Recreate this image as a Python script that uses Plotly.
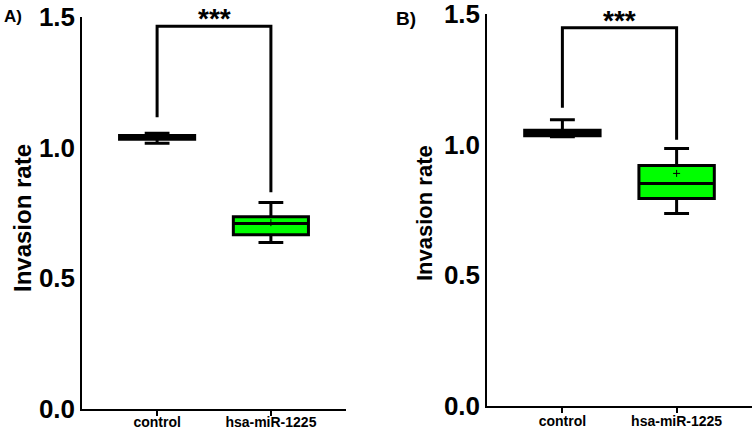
import plotly.graph_objects as go

categories = ["control", "hsa-miR-1225"]

# Panel A box statistics
a_q1 = [1.032, 0.667]
a_median = [1.040, 0.710]
a_q3 = [1.047, 0.736]
a_lower = [1.017, 0.637]
a_upper = [1.055, 0.790]
a_mean = [1.040, 0.713]

# Panel B box statistics
b_q1 = [1.034, 0.794]
b_median = [1.045, 0.851]
b_q3 = [1.055, 0.920]
b_lower = [1.030, 0.737]
b_upper = [1.095, 0.985]
b_mean = [1.045, 0.890]

# significance brackets: top level, left foot, right foot
a_bracket = [1.465, 1.116, 0.829]
b_bracket = [1.447, 1.141, 1.019]
sig_label = "***"

y_ticks = [0.0, 0.5, 1.0, 1.5]
y_title = "Invasion rate"
fills = ["white", "#00FF00"]

FONT = "Liberation Sans, Arial, Helvetica, sans-serif"

fig = go.Figure()


def add_panel(fig, xa, ya, q1, med, q3, lo, hi, mean, bracket):
    for i, cat in enumerate(categories):
        fig.add_trace(go.Box(
            x=[cat], q1=[q1[i]], median=[med[i]], q3=[q3[i]],
            lowerfence=[lo[i]], upperfence=[hi[i]],
            width=0.66, whiskerwidth=0.33,
            fillcolor=fills[i], line=dict(color="black", width=3),
            xaxis=xa, yaxis=ya, showlegend=False, hoverinfo="skip",
        ))
    fig.add_trace(go.Scatter(
        x=categories, y=mean, mode="markers",
        marker=dict(symbol="cross-thin-open", size=5, color="black",
                    line=dict(color="black", width=1)),
        xaxis=xa, yaxis=ya, showlegend=False, hoverinfo="skip",
    ))
    fig.add_trace(go.Scatter(
        x=[categories[0], categories[0], categories[1], categories[1]],
        y=[bracket[1], bracket[0], bracket[0], bracket[2]],
        mode="lines", line=dict(color="black", width=3),
        xaxis=xa, yaxis=ya, showlegend=False, hoverinfo="skip",
    ))
    fig.add_annotation(
        x=0.5, y=bracket[0], xref=xa, yref=ya, text=sig_label,
        showarrow=False, xanchor="center", yanchor="bottom", yshift=-10,
        font=dict(family=FONT, size=28, color="black", weight="bold"),
    )


add_panel(fig, "x", "y", a_q1, a_median, a_q3, a_lower, a_upper, a_mean, a_bracket)
add_panel(fig, "x2", "y2", b_q1, b_median, b_q3, b_lower, b_upper, b_mean, b_bracket)

W, H = 753, 431

xcommon = dict(
    type="category", range=[-0.66, 1.66], showline=True, linecolor="black",
    linewidth=1.5, ticks="outside", ticklen=5, tickwidth=1.5, tickcolor="black",
    tickfont=dict(family=FONT, size=14, color="black", weight="bold"),
    ticklabeloverflow="allow",
    showgrid=False, zeroline=False, fixedrange=True, automargin=False,
)
ycommon = dict(
    range=[0, 1.5], tickvals=y_ticks, tickformat=".1f", showline=True,
    linecolor="black", linewidth=1.5, ticks="", showgrid=False, zeroline=False,
    tickfont=dict(family=FONT, size=26, color="black", weight="bold"),
    ticklabeloverflow="allow", fixedrange=True, automargin=False,
)

fig.update_layout(
    width=W, height=H, margin=dict(l=0, r=0, t=0, b=0, autoexpand=False),
    plot_bgcolor="white", paper_bgcolor="white", boxmode="overlay",
    xaxis=dict(domain=[82 / W, 346 / W], anchor="y", ticklabelstandoff=-6, **xcommon),
    yaxis=dict(domain=[1 - 409 / H, 1 - 17 / H], anchor="x", **ycommon),
    xaxis2=dict(domain=[487 / W, 752 / W], anchor="y2", ticklabelstandoff=-4, **xcommon),
    yaxis2=dict(domain=[1 - 406 / H, 1 - 14 / H], anchor="x2", **ycommon),
)

# y-axis titles and panel letters
fig.add_annotation(x=22 / W, y=1 - 218 / H, xref="paper", yref="paper",
                   text=y_title, textangle=-90, showarrow=False,
                   xanchor="center", yanchor="middle",
                   font=dict(family=FONT, size=24, color="black", weight="bold"))
fig.add_annotation(x=424 / W, y=1 - 213 / H, xref="paper", yref="paper",
                   text=y_title, textangle=-90, showarrow=False,
                   xanchor="center", yanchor="middle",
                   font=dict(family=FONT, size=22, color="black", weight="bold"))
fig.add_annotation(x=2 / W, y=1 - 17 / H, xref="paper", yref="paper",
                   text="A)", showarrow=False, xanchor="left", yanchor="middle",
                   font=dict(family=FONT, size=17, color="black", weight="bold"))
fig.add_annotation(x=406 / W, y=1 - 19 / H, xref="paper", yref="paper",
                   text="B)", showarrow=False, xanchor="center", yanchor="middle",
                   font=dict(family=FONT, size=19, color="black", weight="bold"))

fig.write_html("out.html")
